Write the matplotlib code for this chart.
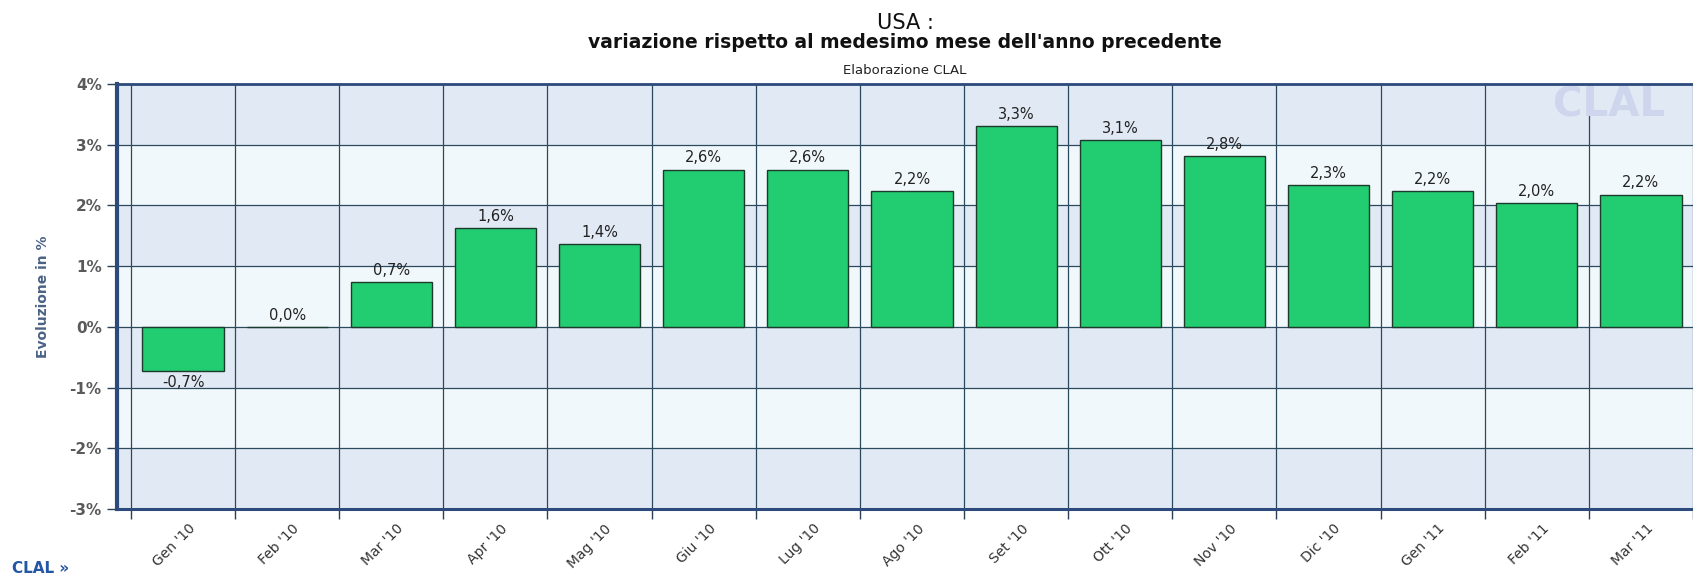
import matplotlib
matplotlib.use('Agg')
import matplotlib.pyplot as plt
from matplotlib.transforms import ScaledTranslation
import numpy as np

########################################################################################
'DATA'

months = ["Gen '10", "Feb '10", "Mar '10", "Apr '10", "Mag '10", "Giu '10", "Lug '10",
          "Ago '10", "Set '10", "Ott '10", "Nov '10", "Dic '10", "Gen '11", "Feb '11", "Mar '11"]
variazione = [-0.72, 0.0, 0.74, 1.63, 1.37, 2.59, 2.59, 2.24, 3.31, 3.08, 2.81, 2.34, 2.24, 2.04, 2.18]
y_ticks = [-3, -2, -1, 0, 1, 2, 3, 4]

########################################################################################
'PLOT'

fig = plt.figure(figsize=(16.93, 5.78), dpi=100)
ax = fig.add_axes([117/1693, 69/578, 1576/1693, 425/578])

x = np.arange(len(months))

# alternating bands
for lo, hi in zip(y_ticks[:-1], y_ticks[1:]):
    col = '#e1e9f4' if (hi - y_ticks[0]) % 2 == 1 else '#f1f8fb'
    ax.axhspan(lo, hi, color=col, zorder=0, lw=0)

ax.bar(x, variazione, width=0.78, color='#22cc70', edgecolor='#1c3b2c', linewidth=1.0, zorder=3)

for xi, v in zip(x, variazione):
    txt = ('%.1f' % v).replace('.', ',') + '%'
    if v < 0:
        ax.annotate(txt, (xi, v), xytext=(0, -3), textcoords='offset points',
                    ha='center', va='top', fontsize=10.5, color='#222222', zorder=4)
    else:
        ax.annotate(txt, (xi, v), xytext=(0, 3), textcoords='offset points',
                    ha='center', va='bottom', fontsize=10.5, color='#222222', zorder=4)

ax.set_xlim(-0.634, 14.46)
ax.set_ylim(-3, 4)

# gridlines / ticks
ax.set_xticks(np.arange(-0.5, len(months), 1.0))
ax.set_xticklabels([])
ax.set_xticks(x, minor=True)
ax.set_xticklabels(months, minor=True, rotation=45, ha='right', va='top',
                   fontsize=10, color='#333333')
ax.tick_params(axis='x', which='major', length=7, width=1, color='#2b3f55', direction='out')
ax.tick_params(axis='x', which='minor', length=0, pad=9)
off = ScaledTranslation(15/100, 0, fig.dpi_scale_trans)
for lab in ax.get_xticklabels(minor=True):
    lab.set_transform(lab.get_transform() + off)

ax.set_yticks(y_ticks)
ax.set_yticklabels(['%d%%' % t for t in y_ticks], fontsize=11, fontweight='bold', color='#5a5a5a')
ax.tick_params(axis='y', length=7, width=1, color='#2b3f55', pad=4)

ax.grid(True, which='major', color='#2b4a5e', linewidth=0.9, zorder=1)
ax.set_axisbelow(True)

for s in ['left', 'bottom', 'top']:
    ax.spines[s].set_color('#2c4a7c')
ax.spines['left'].set_linewidth(3.0)
ax.spines['bottom'].set_linewidth(2.2)
ax.spines['top'].set_linewidth(2.0)
ax.spines['right'].set_visible(False)

ax.set_ylabel('Evoluzione in %', fontsize=10, fontweight='bold', color='#4a6285', labelpad=14)

# watermark
ax.text(0.911, 0.903, 'CLAL', transform=ax.transAxes, fontsize=29, fontweight='bold',
        color='#cdd6ec', ha='left', va='bottom', zorder=2)

# titles
cx = (117 + 1693) / 2 / 1693
fig.text(cx, 1 - 23/578, 'USA :', ha='center', va='center', fontsize=15, color='#111111')
fig.text(cx, 1 - 42/578, "variazione rispetto al medesimo mese dell'anno precedente",
         ha='center', va='center', fontsize=13.5, fontweight='bold', color='#111111')
fig.text(cx, 1 - 71/578, 'Elaborazione CLAL', ha='center', va='center', fontsize=9.5, color='#222222')

fig.text(12/1693, 2/578, 'CLAL \u00bb', ha='left', va='bottom', fontsize=11, fontweight='bold',
         color='#2456a4')

fig.savefig('out.png', dpi=100)
